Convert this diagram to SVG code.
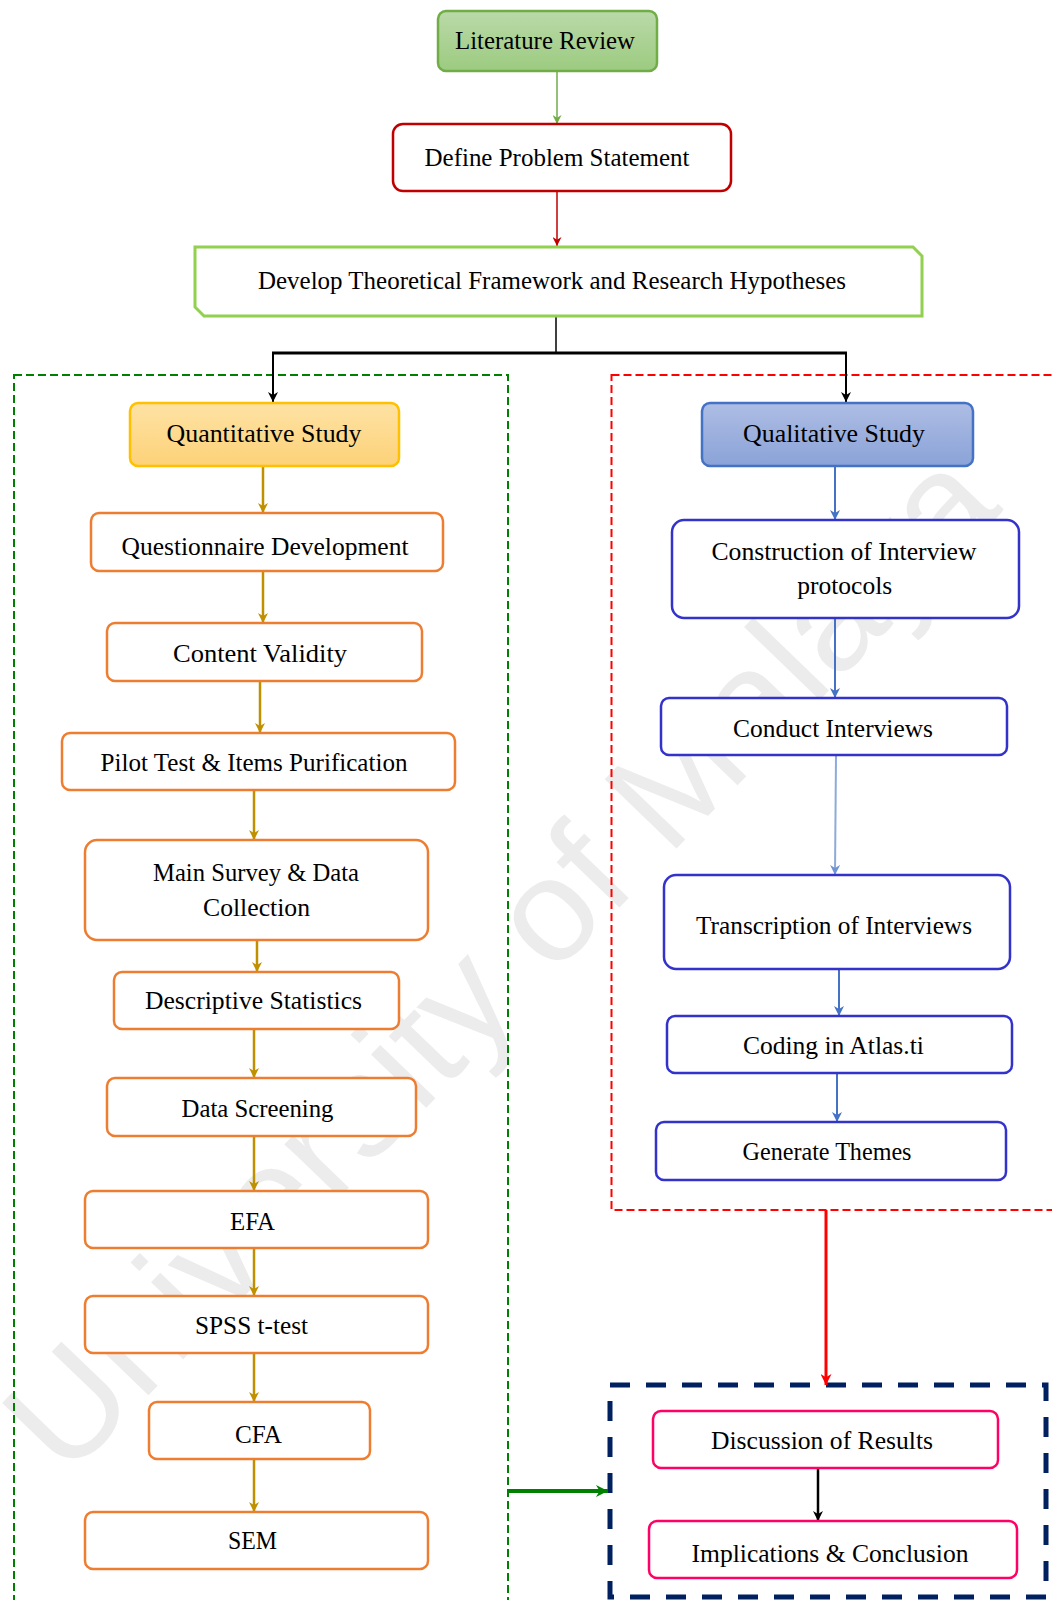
<svg xmlns="http://www.w3.org/2000/svg" width="1052" height="1600" viewBox="0 0 1052 1600">
<style>
.t{font-family:"Liberation Serif","Times New Roman",serif;font-size:25px;fill:#000;text-anchor:middle}
.or{fill:#fff;stroke:#ed7d31;stroke-width:2.5}
.bl{fill:#fff;stroke:#3333cc;stroke-width:2.5}
.pk{fill:#fff;stroke:#ff0066;stroke-width:2.5}
.wm{font-family:"Liberation Sans",Arial,sans-serif;font-size:145px;fill:#ececec}
</style>
<defs>
<linearGradient id="gLit" x1="0" y1="0" x2="0" y2="1"><stop offset="0" stop-color="#bad9a8"/><stop offset="1" stop-color="#9ccb80"/></linearGradient>
<linearGradient id="gQuant" x1="0" y1="0" x2="0" y2="1"><stop offset="0" stop-color="#fee2a4"/><stop offset="1" stop-color="#fdd278"/></linearGradient>
<linearGradient id="gQual" x1="0" y1="0" x2="0" y2="1"><stop offset="0" stop-color="#aebde4"/><stop offset="1" stop-color="#8aa3d8"/></linearGradient>
<marker id="aGreen" viewBox="0 0 10 10" refX="10" refY="5" markerWidth="9" markerHeight="9" markerUnits="userSpaceOnUse" orient="auto"><path d="M0,0 L10,5 L0,10 L3,5 Z" fill="#70ad47"/></marker>
<marker id="aDRed" viewBox="0 0 10 10" refX="10" refY="5" markerWidth="9" markerHeight="9" markerUnits="userSpaceOnUse" orient="auto"><path d="M0,0 L10,5 L0,10 L3,5 Z" fill="#c00000"/></marker>
<marker id="aBlack" viewBox="0 0 10 10" refX="10" refY="5" markerWidth="10" markerHeight="10" markerUnits="userSpaceOnUse" orient="auto"><path d="M0,0 L10,5 L0,10 L3,5 Z" fill="#000"/></marker>
<marker id="aGold" viewBox="0 0 10 10" refX="10" refY="5" markerWidth="10" markerHeight="10" markerUnits="userSpaceOnUse" orient="auto"><path d="M0,0 L10,5 L0,10 L3,5 Z" fill="#bf9000"/></marker>
<marker id="aBlue" viewBox="0 0 10 10" refX="10" refY="5" markerWidth="10" markerHeight="10" markerUnits="userSpaceOnUse" orient="auto"><path d="M0,0 L10,5 L0,10 L3,5 Z" fill="#4472c4"/></marker>
<marker id="aLBlue" viewBox="0 0 10 10" refX="10" refY="5" markerWidth="10" markerHeight="10" markerUnits="userSpaceOnUse" orient="auto"><path d="M0,0 L10,5 L0,10 L3,5 Z" fill="#6f93d3"/></marker>
<marker id="aRed" viewBox="0 0 10 10" refX="10" refY="5" markerWidth="11" markerHeight="11" markerUnits="userSpaceOnUse" orient="auto"><path d="M0,0 L10,5 L0,10 L3,5 Z" fill="#ff0000"/></marker>
<marker id="aDGreen" viewBox="0 0 10 10" refX="10" refY="5" markerWidth="12" markerHeight="12" markerUnits="userSpaceOnUse" orient="auto"><path d="M0,0 L10,5 L0,10 L3,5 Z" fill="#008000"/></marker>
</defs>

<text class="wm" x="535" y="995" text-anchor="middle" textLength="1350" lengthAdjust="spacingAndGlyphs" transform="rotate(-46 535 995)">University of Malaya</text>

<g id="containers">
<rect x="14" y="375" width="494" height="1260" fill="none" stroke="#008000" stroke-width="2" stroke-dasharray="8 4"/>
<rect x="611.5" y="375" width="500" height="835" fill="none" stroke="#ff0000" stroke-width="2" stroke-dasharray="8 4"/>
<rect x="610" y="1385" width="436" height="212" fill="none" stroke="#002060" stroke-width="5" stroke-dasharray="20 16"/>
</g>

<g id="connectors">
<line x1="557" y1="72" x2="557" y2="124" stroke="#70ad47" stroke-width="1.5" marker-end="url(#aGreen)"/>
<line x1="557" y1="191" x2="557" y2="246" stroke="#c00000" stroke-width="1.5" marker-end="url(#aDRed)"/>
<line x1="556" y1="316" x2="556" y2="353" stroke="#000" stroke-width="1.5"/>
<line x1="272" y1="353" x2="847" y2="353" stroke="#000" stroke-width="3"/>
<line x1="273" y1="353" x2="273" y2="402" stroke="#000" stroke-width="2" marker-end="url(#aBlack)"/>
<line x1="846" y1="353" x2="846" y2="402" stroke="#000" stroke-width="2" marker-end="url(#aBlack)"/>
<g stroke="#bf9000" stroke-width="2.5">
<line x1="263" y1="466" x2="263" y2="513" marker-end="url(#aGold)"/>
<line x1="263" y1="571" x2="263" y2="623" marker-end="url(#aGold)"/>
<line x1="260" y1="681" x2="260" y2="733" marker-end="url(#aGold)"/>
<line x1="254" y1="790" x2="254" y2="840" marker-end="url(#aGold)"/>
<line x1="257" y1="940" x2="257" y2="972" marker-end="url(#aGold)"/>
<line x1="254" y1="1029" x2="254" y2="1078" marker-end="url(#aGold)"/>
<line x1="254" y1="1136" x2="254" y2="1191" marker-end="url(#aGold)"/>
<line x1="254" y1="1248" x2="254" y2="1296" marker-end="url(#aGold)"/>
<line x1="254" y1="1353" x2="254" y2="1402" marker-end="url(#aGold)"/>
<line x1="254" y1="1459" x2="254" y2="1512" marker-end="url(#aGold)"/>
</g>
<g stroke="#4472c4" stroke-width="2">
<line x1="835" y1="466" x2="835" y2="520" marker-end="url(#aBlue)"/>
<line x1="835" y1="618" x2="835" y2="698" marker-end="url(#aBlue)"/>
<line x1="839" y1="969" x2="839" y2="1016" marker-end="url(#aBlue)"/>
<line x1="837" y1="1073" x2="837" y2="1122" marker-end="url(#aBlue)"/>
</g>
<line x1="836" y1="755" x2="835" y2="875" stroke="#8eaadb" stroke-width="2" marker-end="url(#aLBlue)"/>
<line x1="826" y1="1210" x2="826" y2="1385" stroke="#ff0000" stroke-width="3" marker-end="url(#aRed)"/>
<line x1="818" y1="1468" x2="818" y2="1521" stroke="#000" stroke-width="2.5" marker-end="url(#aBlack)"/>
<line x1="508" y1="1491" x2="608" y2="1491" stroke="#008000" stroke-width="4" marker-end="url(#aDGreen)"/>
</g>

<g id="n-literature"><rect x="438" y="11" width="219" height="60" rx="8" fill="url(#gLit)" stroke="#70ad47" stroke-width="2.5"/><text class="t" x="545" y="49" textLength="180" lengthAdjust="spacingAndGlyphs">Literature Review</text></g>
<g id="n-define"><rect x="393" y="124" width="338" height="67" rx="10" fill="#fff" stroke="#c00000" stroke-width="2.5"/><text class="t" x="557" y="166" textLength="265" lengthAdjust="spacingAndGlyphs">Define Problem Statement</text></g>
<g id="n-develop"><path d="M195,247 H913 L922,256 V316 H204 L195,307 Z" fill="#fff" stroke="#92d050" stroke-width="3"/><text class="t" x="552" y="289" textLength="588" lengthAdjust="spacingAndGlyphs">Develop Theoretical Framework and Research Hypotheses</text></g>

<g id="n-quant"><rect x="130" y="403" width="269" height="63" rx="8" fill="url(#gQuant)" stroke="#ffc000" stroke-width="2.5"/><text class="t" x="264" y="442" textLength="195" lengthAdjust="spacingAndGlyphs">Quantitative Study</text></g>
<g id="n-questionnaire"><rect class="or" x="91" y="513" width="352" height="58" rx="8"/><text class="t" x="265" y="555" textLength="287" lengthAdjust="spacingAndGlyphs">Questionnaire Development</text></g>
<g id="n-content"><rect class="or" x="107" y="623" width="315" height="58" rx="8"/><text class="t" x="260" y="662" textLength="174" lengthAdjust="spacingAndGlyphs">Content Validity</text></g>
<g id="n-pilot"><rect class="or" x="62" y="733" width="393" height="57" rx="8"/><text class="t" x="254" y="771" textLength="307" lengthAdjust="spacingAndGlyphs">Pilot Test &amp; Items Purification</text></g>
<g id="n-main"><rect class="or" x="85" y="840" width="343" height="100" rx="12"/><text class="t" x="256" y="881" textLength="206" lengthAdjust="spacingAndGlyphs">Main Survey &amp; Data</text><text class="t" x="256.5" y="916" textLength="107" lengthAdjust="spacingAndGlyphs">Collection</text></g>
<g id="n-descriptive"><rect class="or" x="114" y="972" width="285" height="57" rx="8"/><text class="t" x="253.5" y="1009" textLength="217" lengthAdjust="spacingAndGlyphs">Descriptive Statistics</text></g>
<g id="n-screening"><rect class="or" x="107" y="1078" width="309" height="58" rx="8"/><text class="t" x="257.5" y="1117" textLength="152" lengthAdjust="spacingAndGlyphs">Data Screening</text></g>
<g id="n-efa"><rect class="or" x="85" y="1191" width="343" height="57" rx="8"/><text class="t" x="252.5" y="1230" textLength="45" lengthAdjust="spacingAndGlyphs">EFA</text></g>
<g id="n-spss"><rect class="or" x="85" y="1296" width="343" height="57" rx="8"/><text class="t" x="251.5" y="1334" textLength="113" lengthAdjust="spacingAndGlyphs">SPSS t-test</text></g>
<g id="n-cfa"><rect class="or" x="149" y="1402" width="221" height="57" rx="8"/><text class="t" x="258.5" y="1443" textLength="47" lengthAdjust="spacingAndGlyphs">CFA</text></g>
<g id="n-sem"><rect class="or" x="85" y="1512" width="343" height="57" rx="8"/><text class="t" x="252.5" y="1549" textLength="49" lengthAdjust="spacingAndGlyphs">SEM</text></g>

<g id="n-qual"><rect x="702" y="403" width="271" height="63" rx="8" fill="url(#gQual)" stroke="#4472c4" stroke-width="2.5"/><text class="t" x="834" y="441.5" textLength="182" lengthAdjust="spacingAndGlyphs">Qualitative Study</text></g>
<g id="n-construction"><rect class="bl" x="672" y="520" width="347" height="98" rx="12"/><text class="t" x="844" y="560" textLength="265" lengthAdjust="spacingAndGlyphs">Construction of Interview</text><text class="t" x="844.7" y="593.5" textLength="95" lengthAdjust="spacingAndGlyphs">protocols</text></g>
<g id="n-conduct"><rect class="bl" x="661" y="698" width="346" height="57" rx="8"/><text class="t" x="833" y="737" textLength="200" lengthAdjust="spacingAndGlyphs">Conduct Interviews</text></g>
<g id="n-transcription"><rect class="bl" x="664" y="875" width="346" height="94" rx="12"/><text class="t" x="834" y="934" textLength="276" lengthAdjust="spacingAndGlyphs">Transcription of Interviews</text></g>
<g id="n-coding"><rect class="bl" x="667" y="1016" width="345" height="57" rx="8"/><text class="t" x="833.4" y="1054" textLength="181" lengthAdjust="spacingAndGlyphs">Coding in Atlas.ti</text></g>
<g id="n-themes"><rect class="bl" x="656" y="1122" width="350" height="58" rx="8"/><text class="t" x="827" y="1160" textLength="169" lengthAdjust="spacingAndGlyphs">Generate Themes</text></g>

<g id="n-discussion"><rect class="pk" x="653" y="1411" width="345" height="57" rx="8"/><text class="t" x="822" y="1449" textLength="222" lengthAdjust="spacingAndGlyphs">Discussion of Results</text></g>
<g id="n-implications"><rect class="pk" x="649" y="1521" width="368" height="57" rx="8"/><text class="t" x="830" y="1562" textLength="277" lengthAdjust="spacingAndGlyphs">Implications &amp; Conclusion</text></g>
</svg>
